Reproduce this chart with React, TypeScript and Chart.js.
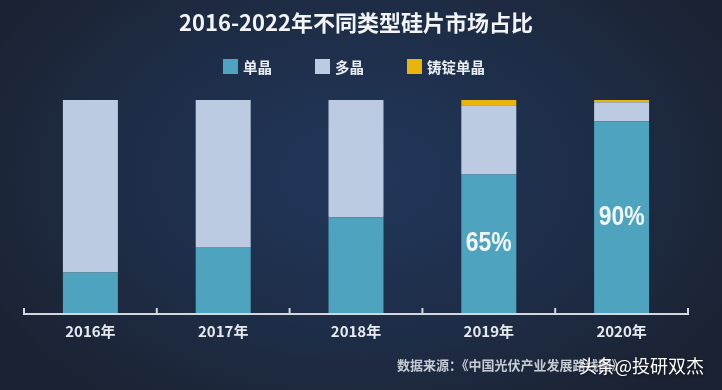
import React, { useEffect, useRef } from 'react';
import { Chart, registerables } from 'chart.js';

Chart.register(...registerables);

const titleText = '2016-2022年不同类型硅片市场占比';
const categories = ['2016年', '2017年', '2018年', '2019年', '2020年'];
const seriesNames = ['单晶', '多晶', '铸锭单晶'];
const monoValues = [19, 31, 45, 65, 90];
const polyValues = [81, 69, 55, 32.5, 9];
const castValues = [0, 0, 0, 2.5, 1];
const monoLabels = ['', '', '', '65%', '90%'];
const sourceText = '数据来源：《中国光伏产业发展路线图》';
const watermarkText = '头条@投研双杰';

const seriesColors = ['#4ea4bf', '#bccbe1', '#e9b40c'];
const CJK = "'Noto Sans CJK SC', 'Noto Sans', sans-serif";

const legendPlugin = {
  id: 'customLegend',
  afterDraw(chart: any) {
    const { ctx, chartArea } = chart;
    const box = 15;
    const gap = 5;
    const spacing = 43;
    ctx.save();
    ctx.font = `bold 14.5px ${CJK}`;
    const items = chart.data.datasets.map((ds: any) => ({
      label: ds.label,
      color: ds.backgroundColor,
      w: box + gap + ctx.measureText(ds.label).width,
    }));
    const total = items.reduce((s: number, it: any) => s + it.w, 0) + spacing * (items.length - 1);
    let x = (chartArea.left + chartArea.right) / 2 - total / 2 - 2;
    const cy = 66.5;
    items.forEach((it: any) => {
      ctx.fillStyle = it.color;
      ctx.fillRect(x, cy - box / 2, box, box);
      ctx.fillStyle = '#e9edf2';
      ctx.textBaseline = 'middle';
      ctx.textAlign = 'left';
      ctx.fillText(it.label, x + box + gap, cy + 1);
      x += it.w + spacing;
    });
    ctx.restore();
  },
};

const axisPlugin = {
  id: 'customAxis',
  afterDatasetsDraw(chart: any) {
    const { ctx, chartArea, scales } = chart;
    const xs = scales.x;
    const y = chartArea.bottom + 1;
    ctx.save();
    ctx.strokeStyle = '#d3d8df';
    ctx.lineWidth = 2;
    ctx.beginPath();
    ctx.moveTo(chartArea.left, y);
    ctx.lineTo(chartArea.right, y);
    const n = categories.length;
    const half = (xs.getPixelForValue(1) - xs.getPixelForValue(0)) / 2;
    for (let i = 0; i <= n; i++) {
      const px = i < n ? xs.getPixelForValue(i) - half : xs.getPixelForValue(n - 1) + half;
      ctx.moveTo(px, y + 1);
      ctx.lineTo(px, y - 6);
    }
    ctx.stroke();
    ctx.restore();
  },
};

const valueLabelPlugin = {
  id: 'valueLabels',
  afterDatasetsDraw(chart: any) {
    const { ctx } = chart;
    const meta = chart.getDatasetMeta(0);
    ctx.save();
    ctx.font = "bold 27px 'Liberation Sans', Arial, sans-serif";
    ctx.fillStyle = '#f3f6f9';
    ctx.textAlign = 'center';
    ctx.textBaseline = 'middle';
    const sx = 0.85;
    meta.data.forEach((el: any, i: number) => {
      const t = monoLabels[i];
      if (!t) return;
      ctx.save();
      ctx.translate(el.x, (el.y + el.base) / 2);
      ctx.scale(sx, 1);
      ctx.fillText(t, 0, 0);
      ctx.restore();
    });
    ctx.restore();
  },
};

const footerPlugin = {
  id: 'footer',
  afterDraw(chart: any) {
    const { ctx } = chart;
    ctx.save();
    ctx.textBaseline = 'middle';
    ctx.textAlign = 'left';
    ctx.font = `bold 13px ${CJK}`;
    ctx.fillStyle = '#c6ccd5';
    ctx.fillText(sourceText, 397, 365);
    ctx.font = `18px ${CJK}`;
    ctx.shadowColor = 'rgba(0,0,0,0.6)';
    ctx.shadowBlur = 3;
    ctx.shadowOffsetX = 1;
    ctx.shadowOffsetY = 1;
    ctx.fillStyle = '#ffffff';
    ctx.fillText(watermarkText, 579, 366);
    ctx.restore();
  },
};

export default function App() {
  const ref = useRef<HTMLCanvasElement | null>(null);

  useEffect(() => {
    if (!ref.current) return;
    const valuesList = [monoValues, polyValues, castValues];
    const chart = new Chart(ref.current, {
      type: 'bar',
      data: {
        labels: categories,
        datasets: seriesNames.map((name, i) => ({
          label: name,
          data: valuesList[i],
          backgroundColor: seriesColors[i],
          borderWidth: 0,
          barPercentage: 0.414,
          categoryPercentage: 1,
        })),
      },
      options: {
        responsive: false,
        animation: false,
        devicePixelRatio: 1,
        layout: { padding: { left: 24, right: 34, top: 0, bottom: 49 } },
        plugins: {
          legend: { display: false },
          tooltip: { enabled: false },
          title: {
            display: true,
            text: titleText,
            color: '#f2f4f7',
            font: { family: CJK, size: 22, weight: 'bold' },
            padding: { top: 9, bottom: 64.6 },
          },
        },
        scales: {
          x: {
            stacked: true,
            grid: { display: false },
            border: { display: false },
            ticks: {
              color: '#e6e9ee',
              font: { family: CJK, size: 15, weight: 'bold' },
              padding: 1,
            },
          },
          y: {
            stacked: true,
            display: false,
            min: 0,
            max: 100,
          },
        },
      },
      plugins: [legendPlugin, axisPlugin, valueLabelPlugin, footerPlugin],
    });
    return () => chart.destroy();
  }, []);

  return (
    <div
      style={{
        position: 'fixed',
        left: 0,
        top: 0,
        width: 722,
        height: 390,
        background:
          'radial-gradient(ellipse 60% 75% at 50% 45%, #21375a 0%, #1e2e49 50%, #1b2231 100%)',
      }}
    >
      <canvas ref={ref} width={722} height={390} style={{ display: 'block' }} />
    </div>
  );
}
